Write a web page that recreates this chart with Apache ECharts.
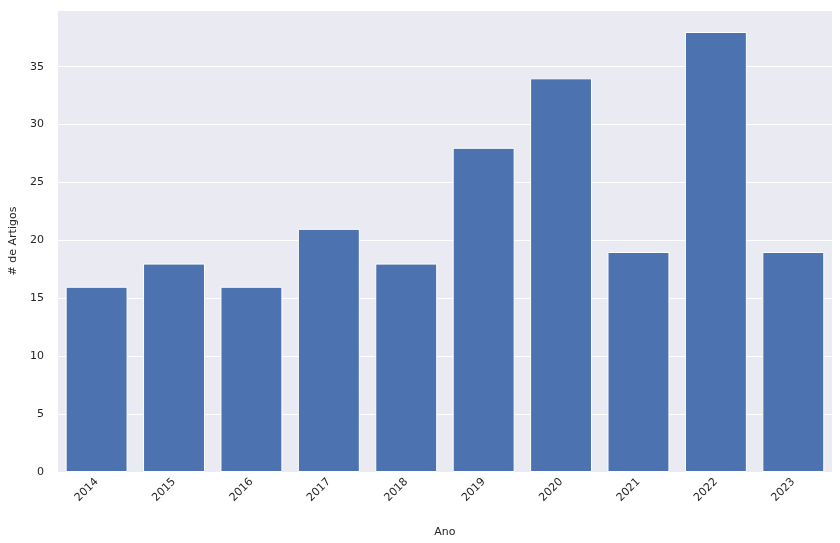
<!DOCTYPE html>
<html><head><meta charset="utf-8">
<script src="https://cdn.jsdelivr.net/npm/echarts@6/dist/echarts.min.js"></script>
<style>html,body{margin:0;padding:0;background:#fff}#c{width:840px;height:543px}</style>
</head><body><div id="c"></div>
<script>
const categories = ['2014','2015','2016','2017','2018','2019','2020','2021','2022','2023'];
const values = [16,18,16,21,18,28,34,19,38,19];
const chart = echarts.init(document.getElementById('c'));
const txt = {color:'#262626', fontFamily:'DejaVu Sans', fontSize:11};
chart.setOption({
  animation:false,
  grid:{left:57,right:8,top:10,bottom:71,show:true,backgroundColor:'#EAEAF2',borderWidth:0},
  xAxis:{type:'category',data:categories,name:'Ano',nameLocation:'middle',nameGap:55,
    nameTextStyle:txt,axisLine:{show:false},axisTick:{show:false},
    axisLabel:Object.assign({rotate:45,margin:8},txt),splitLine:{show:false}},
  yAxis:{type:'value',min:0,max:39.9,interval:5,name:'# de Artigos',nameLocation:'middle',nameGap:38,
    nameTextStyle:txt,axisLine:{show:false},axisTick:{show:false},
    axisLabel:Object.assign({margin:14,formatter:v=>(v%5===0?String(v):'')},txt),
    splitLine:{lineStyle:{color:'#fff',width:1}}},
  series:[{type:'bar',data:values,barCategoryGap:'20%',
    itemStyle:{color:'#4C72B0',borderColor:'#fff',borderWidth:1}}]
});
</script></body></html>
